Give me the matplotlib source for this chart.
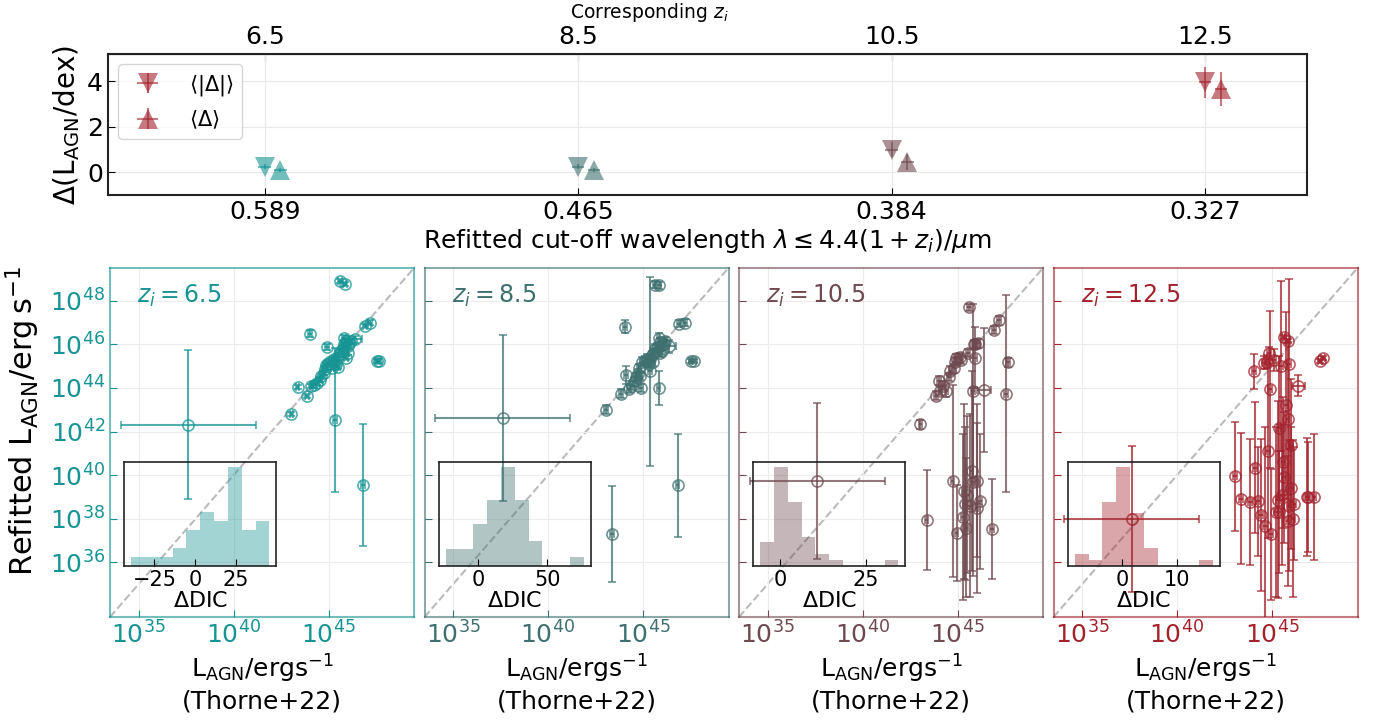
import numpy as np
import matplotlib
matplotlib.use("Agg")
import matplotlib.pyplot as plt

#("**** redshifts, colours, cut-off wavelengths ****")
zi = [6.5, 8.5, 10.5, 12.5]
wave_labels = ["0.589", "0.465", "0.384", "0.327"]
colors = ["#179494", "#3f7070", "#6e4a50", "#a3222c"]

#("**** top panel: mean offsets (dex) ****")
mean_abs = [0.25, 0.25, 1.0, 3.95]
mean_abs_err = [0.1, 0.1, 0.35, 0.7]
mean_sig = [0.1, 0.1, 0.45, 3.65]
mean_sig_err = [0.1, 0.1, 0.35, 0.75]

#("**** Thorne+22 log L_AGN (same sources in every panel) ****")
logL_thorne = [37.61, 45.61, 45.86, 44.04, 43.37, 43.86, 43.05, 44.10, 44.91, 46.91,
               47.19, 47.54, 47.67, 46.39, 45.35, 46.82, 44.25, 44.42, 44.56, 44.63,
               44.74, 44.81, 44.86, 44.95, 45.12, 45.30, 45.39, 45.47, 45.56, 45.65,
               45.74, 45.82, 45.91, 46.00, 46.09, 45.91, 45.51, 45.21, 46.00, 46.18,
               45.82]
logL_thorne_err = [3.55, 0.1, 0.1, 0.1, 0.1, 0.1, 0.1, 0.1, 0.1, 0.1,
                   0.1, 0.1, 0.1, 0.35, 0.1, 0.1, 0.1, 0.1, 0.1, 0.1,
                   0.1, 0.1, 0.1, 0.1, 0.1, 0.1, 0.1, 0.1, 0.1, 0.1,
                   0.1, 0.1, 0.1, 0.1, 0.1, 0.1, 0.1, 0.1, 0.1, 0.1,
                   0.1]

#("**** refitted log L_AGN per cut-off ****")
logL_z65 = [42.31, 48.89, 48.77, 46.49, 44.03, 43.62, 42.80, 44.08, 45.88, 46.85,
            47.00, 45.23, 45.23, 46.23, 42.54, 39.57, 44.12, 44.23, 44.38, 44.54,
            44.69, 44.85, 45.05, 45.15, 45.23, 45.31, 45.08, 45.38, 45.54, 45.69,
            45.85, 46.00, 46.15, 45.92, 46.08, 45.38, 44.95, 44.92, 45.62, 46.15,
            46.31]
err_z65 = [3.42, 0.1, 0.1, 0.15, 0.1, 0.1, 0.1, 0.1, 0.15, 0.1,
           0.1, 0.1, 0.1, 0.15, 3.3, 2.8, 0.1, 0.1, 0.1, 0.1,
           0.1, 0.1, 0.1, 0.1, 0.1, 0.1, 0.1, 0.1, 0.1, 0.1,
           0.1, 0.1, 0.1, 0.1, 0.1, 0.1, 0.1, 0.1, 0.1, 0.1,
           0.1]
logL_z85 = [42.62, 48.74, 48.70, 46.80, 37.31, 43.74, 43.00, 44.60, 44.00, 46.95,
            47.00, 45.23, 45.23, 45.92, 44.77, 39.54, 43.95, 44.10, 44.30, 44.50,
            44.65, 44.90, 44.55, 45.20, 45.25, 45.10, 45.35, 45.50, 45.60, 45.80,
            45.85, 44.00, 46.10, 45.95, 46.00, 45.60, 45.20, 45.35, 45.70, 46.15,
            46.30]
err_z85 = [3.8, 0.15, 0.15, 0.3, 2.2, 0.2, 0.2, 0.4, 0.2, 0.15,
           0.15, 0.1, 0.1, 0.3, 4.34, 2.37, 0.2, 0.2, 0.2, 0.2,
           0.2, 0.2, 0.2, 0.2, 0.2, 0.2, 0.2, 0.2, 0.2, 0.2,
           0.2, 0.76, 0.2, 0.2, 0.2, 0.2, 0.2, 0.2, 0.2, 0.2,
           0.2]
logL_z105 = [39.74, 47.69, 46.00, 44.34, 37.95, 43.65, 42.34, 43.88, 45.38, 46.66,
             47.10, 43.74, 45.18, 43.92, 39.26, 37.54, 44.10, 43.88, 44.50, 44.80,
             39.74, 44.90, 45.20, 37.35, 45.40, 38.10, 38.70, 37.60, 45.60, 38.60,
             40.20, 39.70, 46.00, 38.50, 46.05, 45.38, 39.10, 45.30, 39.75, 38.80,
             43.85]
err_z105 = [3.56, 0.15, 0.2, 0.2, 2.28, 0.2, 0.2, 0.2, 0.2, 0.2,
            0.2, 4.5, 0.2, 2.85, 4.0, 2.3, 0.2, 0.3, 0.2, 0.2,
            4.4, 0.2, 0.2, 2.2, 0.2, 3.8, 3.5, 3.2, 0.2, 4.2,
            4.6, 4.3, 0.2, 3.9, 0.2, 1.4, 3.6, 0.2, 3.5, 3.1,
            4.0]
logL_z125 = [38.00, 46.34, 46.15, 44.77, 38.92, 38.77, 39.95, 40.35, 43.95, 39.00,
             39.00, 45.23, 45.38, 44.11, 42.15, 39.00, 38.80, 38.18, 45.15, 37.69,
             45.20, 41.10, 45.60, 37.30, 45.30, 38.88, 38.30, 45.00, 40.60, 39.90,
             43.20, 42.60, 38.60, 39.40, 38.00, 45.10, 39.10, 38.30, 41.40, 38.70,
             37.90]
err_z125 = [3.35, 0.1, 0.1, 0.8, 3.0, 2.9, 2.5, 3.0, 3.6, 2.5,
            2.9, 0.1, 0.1, 0.5, 3.3, 2.7, 2.5, 3.5, 0.3, 4.5,
            0.3, 4.0, 0.3, 3.0, 0.5, 4.5, 2.8, 3.9, 3.0, 3.0,
            4.3, 3.5, 3.0, 2.8, 3.6, 3.9, 3.2, 3.9, 3.0, 2.6,
            3.0]
refit = [logL_z65, logL_z85, logL_z105, logL_z125]
refit_err = [err_z65, err_z85, err_z105, err_z125]

#("**** Delta DIC histograms (10 bins between min and max) ****")
dic_range = [(-39.2, 45.6), (-23.1, 76.2), (-5.8, 34.4), (-8.67, 16.5)]
dic_counts = [[1, 1, 1, 2, 4, 6, 5, 11, 4, 5],
              [2, 2, 5, 8, 12, 8, 3, 0, 0, 1],
              [4, 17, 11, 5, 2, 1, 0, 0, 0, 1],
              [2, 1, 11, 17, 9, 3, 0, 0, 0, 1]]
dic_ticks = [[-25, 0, 25], [0, 50], [0, 25], [0, 10]]

lims = (33.5, 49.5)

fig = plt.figure(figsize=(13.8, 7.24), dpi=100)

#("********** Top panel **********")
ax = fig.add_axes([108 / 1380, 1 - 195 / 724, 1199 / 1380, 141 / 724])
for i in range(4):
    lab1 = r'$\langle|\Delta|\rangle$' if i == 3 else None
    lab2 = r'$\langle\Delta\rangle$' if i == 3 else None
    ax.errorbar(zi[i], mean_abs[i], xerr=0.04, yerr=mean_abs_err[i], fmt='v', ms=14,
                color=colors[i], alpha=0.6, capsize=3, mew=0, label=lab1)
    ax.errorbar(zi[i] + 0.1, mean_sig[i], xerr=0.04, yerr=mean_sig_err[i], fmt='^', ms=14,
                color=colors[i], alpha=0.6, capsize=3, mew=0, label=lab2)
ax.set_xlim(5.5, 13.15)
ax.set_ylim(-1, 5.2)
ax.set_xticks(zi)
ax.set_xticklabels(wave_labels)
ax.set_yticks([0, 2, 4])
ax.tick_params(direction='in', labelsize=18, length=5)
ax.grid(True, color='#e8e8e8', lw=0.8)
for s in ax.spines.values():
    s.set_linewidth(1.5)
    s.set_color('#222222')
ax.set_xlabel(r'Refitted cut-off wavelength $\lambda \leq 4.4(1+z_i)/\mu$m', fontsize=18, labelpad=2)
ax.set_ylabel(r'$\Delta(\mathrm{L_{AGN}/dex})$', fontsize=20, labelpad=4)
ax.legend(loc='upper left', fontsize=15, framealpha=0.8, handletextpad=1.0, borderpad=0.4)
sec = ax.secondary_xaxis('top')
sec.set_xticks(zi)
sec.set_xticklabels([str(z) for z in zi])
sec.tick_params(direction='in', labelsize=18, length=5)
fig.text(649 / 1380, 1 - 12 / 724, r'Corresponding $z_i$', fontsize=13.5, ha='center', va='center')

#("********** Bottom panels **********")
w = 304 / 1380
for i in range(4):
    left = (110 + i * 314.5) / 1380
    bx = fig.add_axes([left, 107 / 724, w, 349 / 724])
    c = colors[i]
    bx.plot(lims, lims, ls='--', color='#aaaaaa', lw=1.5, alpha=0.8, zorder=1)
    bx.errorbar(logL_thorne, refit[i], xerr=logL_thorne_err, yerr=refit_err[i], fmt='o',
                ms=8, mfc='none', color=c, alpha=0.75, capsize=3, elinewidth=1.5, mew=1.2, zorder=3)
    bx.set_xlim(lims)
    bx.set_ylim(lims)
    bx.set_xticks([35, 40, 45])
    bx.set_xticklabels([r'$10^{35}$', r'$10^{40}$', r'$10^{45}$'])
    bx.set_yticks([36, 38, 40, 42, 44, 46, 48])
    if i == 0:
        bx.set_yticklabels([r'$10^{%d}$' % v for v in [36, 38, 40, 42, 44, 46, 48]])
        bx.set_ylabel(r'Refitted $\mathrm{L_{AGN}/erg\,s^{-1}}$', fontsize=22, labelpad=2)
        bx.yaxis.set_label_coords(-0.225, 0.56)
    else:
        bx.set_yticklabels([])
    bx.tick_params(direction='in', labelsize=18, colors=c, labelcolor=c, length=5)
    bx.grid(True, color='#ececec', lw=0.8, zorder=0)
    for s in bx.spines.values():
        s.set_color(c)
        s.set_alpha(0.6)
        s.set_linewidth(1.5)
    bx.set_xlabel('$\\mathrm{L_{AGN}/ergs^{-1}}$\n(Thorne+22)', fontsize=18, labelpad=3)
    bx.text(0.09, 0.92, r'$z_i = %s$' % zi[i], transform=bx.transAxes, color=c,
            fontsize=17, va='center')

    #("**** Delta DIC inset ****")
    ins = bx.inset_axes([0.047, 0.147, 0.50, 0.298])
    edges = np.linspace(dic_range[i][0], dic_range[i][1], 11)
    centers = 0.5 * (edges[:-1] + edges[1:])
    ins.hist(centers, bins=edges, weights=dic_counts[i], color=c, alpha=0.4)
    ins.set_facecolor('none')
    ins.set_yticks([])
    ins.set_xticks(dic_ticks[i])
    ins.tick_params(direction='in', labelsize=15, length=5, pad=3)
    ins.set_xlabel(r'$\Delta$DIC', fontsize=16, labelpad=1)
    for s in ins.spines.values():
        s.set_color('#222222')
        s.set_linewidth(1.2)

fig.savefig('out.png', dpi=100)
